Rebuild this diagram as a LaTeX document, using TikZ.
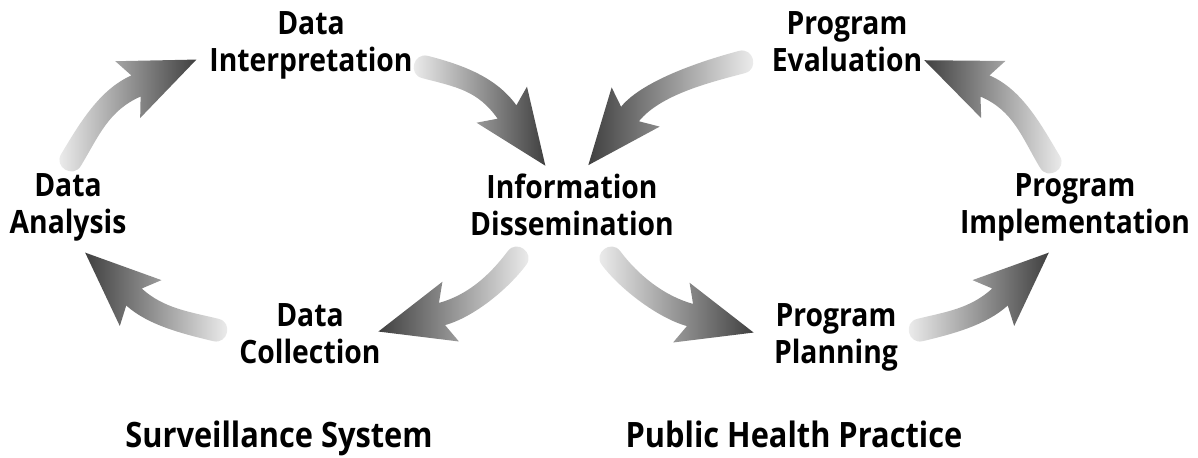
\documentclass[tikz,border=0pt]{standalone}
\usepackage{fontspec}
\usetikzlibrary{calc}
\newfontfamily\labelfont[FakeStretch=0.88]{Open Sans}

\colorlet{tailgray}{black!5}
\colorlet{headgray}{black!75}

% sizes of the fat arrows
\def\shaftw{0.23cm}
\def\headw{0.62cm}
\def\headback{0.18cm}
\def\headlen{1.32cm}
\def\capk{0.3cm}

% #1 name, #2 shading, #3 tail, #4 ctrl 1, #5 ctrl 2, #6 base of head
\newcommand{\fatarrow}[6]{%
  \coordinate (#1-back) at ($(#6)!\headback!(#5)$);
  \coordinate (#1-tip) at ($(#6)!-\headlen!(#5)$);
  \coordinate (#1-tb) at ($(#3)!-\capk!(#4)$);
  \shade[#2] ($(#3)!\shaftw!90:(#4)$)
    .. controls ($(#4)!\shaftw!-90:(#3)$) and ($(#5)!\shaftw!90:(#6)$) .. ($(#6)!\shaftw!-90:(#5)$)
    -- ($(#1-back)!\headw!-90:(#5)$)
    -- (#1-tip)
    -- ($(#1-back)!\headw!90:(#5)$)
    -- ($(#6)!\shaftw!90:(#5)$)
    .. controls ($(#5)!\shaftw!-90:(#6)$) and ($(#4)!\shaftw!90:(#3)$) .. ($(#3)!\shaftw!-90:(#4)$)
    .. controls ($(#1-tb)!\shaftw!-90:(#3)$) and ($(#1-tb)!\shaftw!90:(#3)$) .. cycle;
}

\begin{document}
\begin{tikzpicture}[x=0.02cm, y=-0.02cm,
    lbl/.style={font=\labelfont\bfseries\fontsize{18.3}{21}\selectfont, align=center,
      inner sep=0pt, anchor=north,
      execute at begin node=\vphantom{Df}, execute at end node=\vphantom{gp}},
    ttl/.style={font=\labelfont\bfseries\fontsize{19.9}{24}\selectfont, inner sep=0pt, anchor=base},
    lighttodark/.style={left color=tailgray, right color=headgray},
    darktolight/.style={left color=headgray, right color=tailgray}]
	\useasboundingbox (0,0) rectangle (1198,457);
	
	\node[lbl] (interp) at (311,11.5) {Data\\Interpretation};
	\node[lbl] (analysis) at (68,173.5) {Data\\Analysis};
	\node[lbl] (info) at (572,173.5) {Information\\Dissemination};
	\node[lbl] (collect) at (310,303.5) {Data\\Collection};
	\node[lbl] (eval) at (847,11.5) {Program\\Evaluation};
	\node[lbl] (impl) at (1075,173.5) {Program\\Implementation};
	\node[lbl] (plan) at (836,303.5) {Program\\Planning};
	
	\node[ttl] (surv) at (279,447) {Surveillance System};
	\node[ttl] (practice) at (794,447) {Public Health Practice};
	
	% analysis -> interpretation
	\coordinate (a1t) at (71,160);  \coordinate (a1u) at (89,130);
	\coordinate (a1v) at (104,100); \coordinate (a1b) at (136,86);
	% interpretation -> information
	\coordinate (a2t) at (425,67);  \coordinate (a2u) at (460,76);
	\coordinate (a2v) at (487,84);  \coordinate (a2b) at (507,112);
	% information -> collection
	\coordinate (a3t) at (517,258); \coordinate (a3u) at (499,282);
	\coordinate (a3v) at (471,306); \coordinate (a3b) at (442,314);
	% collection -> analysis
	\coordinate (a4t) at (216,330); \coordinate (a4u) at (187,323);
	\coordinate (a4v) at (156,317); \coordinate (a4b) at (134,297);
	% information -> planning
	\coordinate (a5t) at (611,258); \coordinate (a5u) at (629,282);
	\coordinate (a5v) at (661,307); \coordinate (a5b) at (690,315);
	% planning -> implementation
	\coordinate (a6t) at (920,330); \coordinate (a6u) at (949,323);
	\coordinate (a6v) at (978,317); \coordinate (a6b) at (1000,297);
	% implementation -> evaluation
	\coordinate (a7t) at (1050,162); \coordinate (a7u) at (1032,132);
	\coordinate (a7v) at (1018,100); \coordinate (a7b) at (985,86);
	% evaluation -> information
	\coordinate (a8t) at (742,62);  \coordinate (a8u) at (708,71);
	\coordinate (a8v) at (652,87);  \coordinate (a8b) at (630,114);
	
	\fatarrow{a1}{lighttodark}{a1t}{a1u}{a1v}{a1b}
	\fatarrow{a2}{lighttodark}{a2t}{a2u}{a2v}{a2b}
	\fatarrow{a3}{darktolight}{a3t}{a3u}{a3v}{a3b}
	\fatarrow{a4}{darktolight}{a4t}{a4u}{a4v}{a4b}
	\fatarrow{a5}{lighttodark}{a5t}{a5u}{a5v}{a5b}
	\fatarrow{a6}{lighttodark}{a6t}{a6u}{a6v}{a6b}
	\fatarrow{a7}{darktolight}{a7t}{a7u}{a7v}{a7b}
	\fatarrow{a8}{darktolight}{a8t}{a8u}{a8v}{a8b}
\end{tikzpicture}
\end{document}
